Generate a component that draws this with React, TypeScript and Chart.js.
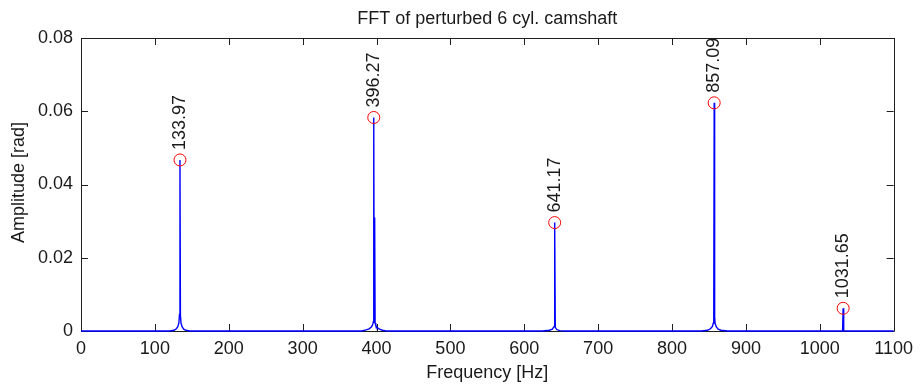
import React, { useEffect, useRef } from "react";
import { Chart, registerables } from "chart.js";

Chart.register(...registerables);

const titleText = "FFT of perturbed 6 cyl. camshaft";
const xTitle = "Frequency [Hz]";
const yTitle = "Amplitude [rad]";

const xTicks = [0, 100, 200, 300, 400, 500, 600, 700, 800, 900, 1000, 1100];
const yTicks = [0, 0.02, 0.04, 0.06, 0.08];

const spectrumFreq = [
  0, 120,
  126, 129, 131, 132.5, 133.3, 133.97, 134.6, 135.4, 137, 139, 142,
  147, 380,
  386, 390, 393, 394.8, 395.6, 396.27, 396.9, 397.5, 398.1, 399, 401, 404, 408,
  413, 625,
  634, 638, 640.3, 641.17, 642, 644, 648,
  655, 840,
  848, 852, 854.5, 856, 856.5, 857.09, 857.7, 858.3, 860, 862.5, 866,
  875, 1025,
  1030.9, 1031.65, 1032.4,
  1040, 1100,
];
const spectrumAmp = [
  0, 0,
  0.0002, 0.0006, 0.0012, 0.0022, 0.0045, 0.0467, 0.0042, 0.0021, 0.0011, 0.0005, 0.0002,
  0, 0,
  0.0003, 0.0006, 0.0011, 0.0017, 0.0025, 0.0583, 0.0024, 0.031, 0.0022, 0.0015, 0.0009, 0.0005, 0.0002,
  0, 0,
  0.0002, 0.0005, 0.0012, 0.0296, 0.001, 0.0004, 0.0001,
  0, 0,
  0.0002, 0.0006, 0.0012, 0.0022, 0.004, 0.0623, 0.0038, 0.0021, 0.0011, 0.0005, 0.0002,
  0, 0,
  0, 0.0062, 0,
  0, 0,
];

const peakFreq = [133.97, 396.27, 641.17, 857.09, 1031.65];
const peakAmp = [0.0467, 0.0583, 0.0296, 0.0623, 0.0062];
const peakLabels = ["133.97", "396.27", "641.17", "857.09", "1031.65"];

const FONT = "'Liberation Sans', Arial, Helvetica, sans-serif";
const TEXT = "#1a1a1a";
const AXIS = "#1f1f1f";

const decorPlugin = {
  id: "matlabDecor",
  beforeDatasetsDraw(chart: any) {
    const { ctx, chartArea } = chart;
    const { left, right, top, bottom } = chartArea;
    const xs = chart.scales.x;
    const ys = chart.scales.y;
    const tl = 7;
    ctx.save();
    ctx.strokeStyle = AXIS;
    ctx.lineWidth = 1;
    ctx.beginPath();
    ctx.rect(Math.round(left) + 0.5, Math.round(top) + 0.5, Math.round(right - left), Math.round(bottom - top));
    ctx.stroke();
    ctx.beginPath();
    xTicks.forEach((v) => {
      const x = Math.round(xs.getPixelForValue(v)) + 0.5;
      ctx.moveTo(x, bottom);
      ctx.lineTo(x, bottom - tl);
      ctx.moveTo(x, top);
      ctx.lineTo(x, top + tl);
    });
    yTicks.forEach((v) => {
      const y = Math.round(ys.getPixelForValue(v)) + 0.5;
      ctx.moveTo(left, y);
      ctx.lineTo(left + tl, y);
      ctx.moveTo(right, y);
      ctx.lineTo(right - tl, y);
    });
    ctx.stroke();
    ctx.restore();
  },
  afterDatasetsDraw(chart: any) {
    const { ctx, chartArea } = chart;
    const xs = chart.scales.x;
    const ys = chart.scales.y;
    const cx = (chartArea.left + chartArea.right) / 2;
    const cy = (chartArea.top + chartArea.bottom) / 2;
    ctx.save();
    ctx.fillStyle = TEXT;
    ctx.font = `18px ${FONT}`;
    // peak labels
    peakLabels.forEach((lab, i) => {
      const x = xs.getPixelForValue(peakFreq[i]);
      const y = ys.getPixelForValue(peakAmp[i]);
      ctx.save();
      ctx.translate(x, y - 10);
      ctx.rotate(-Math.PI / 2);
      ctx.textAlign = "left";
      ctx.textBaseline = "middle";
      ctx.fillText(lab, 0, 0);
      ctx.restore();
    });
    // titles
    ctx.textAlign = "center";
    ctx.textBaseline = "alphabetic";
    ctx.fillText(titleText, cx, 24);
    ctx.fillText(xTitle, cx, 378);
    ctx.save();
    ctx.translate(24, cy - 2);
    ctx.rotate(-Math.PI / 2);
    ctx.fillText(yTitle, 0, 0);
    ctx.restore();
    ctx.restore();
  },
};

export default function App() {
  const ref = useRef<HTMLCanvasElement | null>(null);

  useEffect(() => {
    document.body.style.margin = "0";
    const canvas = ref.current;
    if (!canvas) return;
    const chart = new Chart(canvas, {
      type: "line",
      data: {
        datasets: [
          {
            label: "spectrum",
            data: spectrumFreq.map((f, i) => ({ x: f, y: spectrumAmp[i] })),
            borderColor: "#0000ff",
            borderWidth: 1.4,
            pointRadius: 0,
            tension: 0,
            fill: false,
            clip: 4,
            order: 2,
          },
          {
            label: "peaks",
            data: peakFreq.map((f, i) => ({ x: f, y: peakAmp[i] })),
            showLine: false,
            pointRadius: 6,
            pointStyle: "circle",
            pointBorderColor: "#ff0000",
            pointBackgroundColor: "rgba(0,0,0,0)",
            pointBorderWidth: 1,
            borderColor: "#ff0000",
            backgroundColor: "rgba(0,0,0,0)",
            clip: false,
            order: 1,
          },
        ],
      },
      options: {
        animation: false,
        responsive: false,
        devicePixelRatio: 1,
        events: [],
        layout: { padding: { left: 0, right: 23, top: 38, bottom: 0 } },
        plugins: {
          legend: { display: false },
          tooltip: { enabled: false },
          title: { display: false },
        },
        scales: {
          x: {
            type: "linear",
            min: 0,
            max: 1100,
            afterFit: (s: any) => {
              s.height = 57;
            },
            afterBuildTicks: (s: any) => {
              s.ticks = xTicks.map((v) => ({ value: v }));
            },
            grid: { display: false, drawTicks: false },
            border: { display: false },
            ticks: {
              padding: 7,
              maxRotation: 0,
              autoSkip: false,
              color: TEXT,
              font: { family: FONT, size: 18 },
              callback: (v: any) => String(v),
            },
          },
          y: {
            type: "linear",
            min: 0,
            max: 0.08,
            afterFit: (s: any) => {
              s.width = 81;
            },
            afterBuildTicks: (s: any) => {
              s.ticks = yTicks.map((v) => ({ value: v }));
            },
            grid: { display: false, drawTicks: false },
            border: { display: false },
            ticks: {
              padding: 8,
              autoSkip: false,
              color: TEXT,
              font: { family: FONT, size: 18 },
              callback: (v: any) => (v === 0 ? "0" : Number(v).toFixed(2)),
            },
          },
        },
      },
      plugins: [decorPlugin],
    });
    return () => chart.destroy();
  }, []);

  return (
    <div style={{ width: 920, height: 388, background: "#fff" }}>
      <canvas ref={ref} width={920} height={388} style={{ display: "block" }} />
    </div>
  );
}
